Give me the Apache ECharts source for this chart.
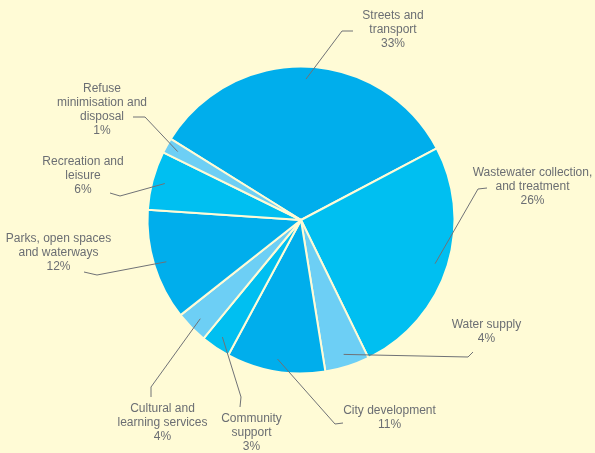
<!DOCTYPE html>
<html>
<head>
<meta charset="utf-8">
<script src="https://cdn.jsdelivr.net/npm/echarts@6/dist/echarts.min.js"></script>
<style>
html,body{margin:0;padding:0;background:#FFFBD6;}
#chart{width:595px;height:453px;}
</style>
</head>
<body>
<div id="chart"></div>
<script>
// ---- data ----
var categories = [
  'Streets and\ntransport',
  'Wastewater collection,\nand treatment',
  'Water supply',
  'City development',
  'Community\nsupport',
  'Cultural and\nlearning services',
  'Parks, open spaces\nand waterways',
  'Recreation and\nleisure',
  'Refuse\nminimisation and\ndisposal'
];
var values = [33.4, 25.5, 4.7, 10.4, 3.1, 3.4, 11.7, 6.2, 1.6];
var percentLabels = ['33%', '26%', '4%', '11%', '3%', '4%', '12%', '6%', '1%'];

// ---- layout (label centres and leader-line offsets relative to label centre) ----
var labelCentres = [
  [393, 30], [532.5, 187], [486.5, 332], [389.5, 417.5], [251.5, 433],
  [162.5, 423], [58.5, 252.5], [83, 176], [102, 110]
];
var lineEndOffsets = [
  [-40, 1], [-45.5, 1], [-13.5, 20], [-46.5, 5.5], [-11.5, -26],
  [-11.5, -26], [25.5, 19.5], [27, 17], [31, 7]
];
var lineBendOffsets = [
  [-51, 1], [-54.5, 2], [-18.5, 25], [-54.5, 6.5], [-10.5, -36],
  [-11.5, -36], [38.5, 22.5], [37, 20], [43, 7]
];
var colors = ['#00AEEC', '#00BFF1', '#6DCFF5'];

var chart = echarts.init(document.getElementById('chart'), null, {renderer: 'canvas'});
var pieData = categories.map(function (c, i) {
  return {name: c, value: values[i], itemStyle: {color: colors[i % 3]}};
});
var labelData = categories.map(function (c, i) {
  return {name: c, value: values[i]};
});

chart.setOption({
  backgroundColor: '#FFFBD6',
  animation: false,
  series: [
    {
      type: 'pie',
      center: [301, 220],
      radius: [0, 153.5],
      startAngle: 148.1,
      clockwise: true,
      avoidLabelOverlap: false,
      silent: true,
      label: {show: false},
      labelLine: {show: false},
      itemStyle: {borderColor: '#FFFBD6', borderWidth: 2},
      data: pieData,
      z: 1
    },
    {
      type: 'pie',
      center: [301, 220],
      radius: [0, 141],
      startAngle: 148.1,
      clockwise: true,
      avoidLabelOverlap: false,
      silent: true,
      itemStyle: {color: 'rgba(0,0,0,0)', borderWidth: 0},
      label: {
        show: true,
        position: 'outside',
        formatter: function (p) { return p.name + '\n' + percentLabels[p.dataIndex]; },
        color: '#6B6E73',
        fontFamily: 'Liberation Sans, Arial, sans-serif',
        fontSize: 12,
        lineHeight: 14,
        align: 'center'
      },
      labelLine: {
        show: true,
        length: 10,
        length2: 10,
        lineStyle: {color: '#707276', width: 1}
      },
      labelLayout: function (params) {
        var i = params.dataIndex;
        var c = labelCentres[i];
        var start = params.labelLinePoints ? params.labelLinePoints[0] : c;
        var bend = [c[0] + lineBendOffsets[i][0], c[1] + lineBendOffsets[i][1]];
        var end = [c[0] + lineEndOffsets[i][0], c[1] + lineEndOffsets[i][1]];
        return {
          x: c[0],
          y: c[1],
          align: 'center',
          verticalAlign: 'middle',
          labelLinePoints: [start, bend, end]
        };
      },
      data: labelData,
      z: 2
    }
  ]
});
</script>
</body>
</html>
